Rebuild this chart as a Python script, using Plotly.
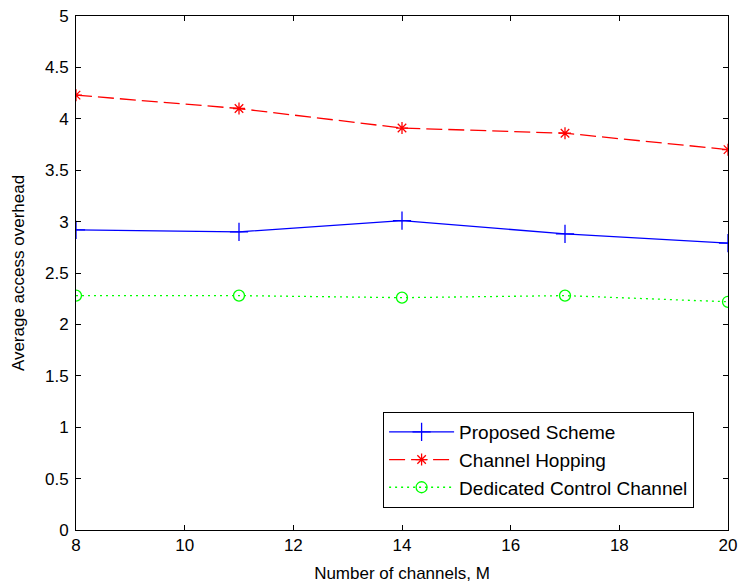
import plotly.graph_objects as go

channels = [8, 11, 14, 17, 20]
proposed = [2.92, 2.90, 3.01, 2.88, 2.79]
hopping = [4.23, 4.10, 3.91, 3.86, 3.70]
dedicated = [2.28, 2.28, 2.26, 2.28, 2.22]

x_ticks = [8, 10, 12, 14, 16, 18, 20]
y_ticks = [0, 0.5, 1, 1.5, 2, 2.5, 3, 3.5, 4, 4.5, 5]
y_tick_text = ["0", "0.5", "1", "1.5", "2", "2.5", "3", "3.5", "4", "4.5", "5"]

FONT = "Liberation Sans, Arial"

fig = go.Figure()
fig.add_trace(go.Scatter(
    x=channels, y=proposed, name="Proposed Scheme", mode="lines+markers",
    line=dict(color="#0000ff", width=1.3),
    marker=dict(symbol="cross-thin-open", size=13, line=dict(color="#0000ff", width=1.3)),
))
fig.add_trace(go.Scatter(
    x=channels, y=hopping, name="Channel Hopping", mode="lines+markers",
    line=dict(color="#ff0000", width=1.3, dash="16px,6px"),
    marker=dict(symbol="asterisk-open", size=10, line=dict(color="#ff0000", width=1.3)),
))
fig.add_trace(go.Scatter(
    x=channels, y=dedicated, name="Dedicated Control Channel", mode="lines+markers",
    line=dict(color="#00ff00", width=1.3, dash="2px,4px"),
    marker=dict(symbol="circle-open", size=11, line=dict(color="#00ff00", width=1.3)),
))

axis_common = dict(
    showline=True, linecolor="black", linewidth=1, mirror="ticks",
    ticks="inside", ticklen=5, tickcolor="black", showgrid=False, zeroline=False,
    automargin=False,
    tickfont=dict(family=FONT, size=17, color="black"),
)

fig.update_xaxes(
    range=[8, 20], tickvals=x_ticks,
    title=dict(text="Number of channels, M", font=dict(family=FONT, size=17, color="black"), standoff=12),
    **axis_common,
)
fig.update_yaxes(
    range=[0, 5], tickvals=y_ticks, ticktext=y_tick_text, ticklabelstandoff=3,
    title=dict(text="Average access overhead", font=dict(family=FONT, size=17, color="black"), standoff=16),
    **axis_common,
)

fig.update_layout(
    width=741, height=586,
    margin=dict(l=76, r=13, t=16, b=56),
    plot_bgcolor="white", paper_bgcolor="white",
    legend=dict(
        x=0.471, y=0.2296, xanchor="left", yanchor="top",
        bordercolor="black", borderwidth=1, bgcolor="white",
        font=dict(family=FONT, size=19, color="black"),
        tracegroupgap=0, itemwidth=65,
    ),
)

fig.write_html("out.html")
